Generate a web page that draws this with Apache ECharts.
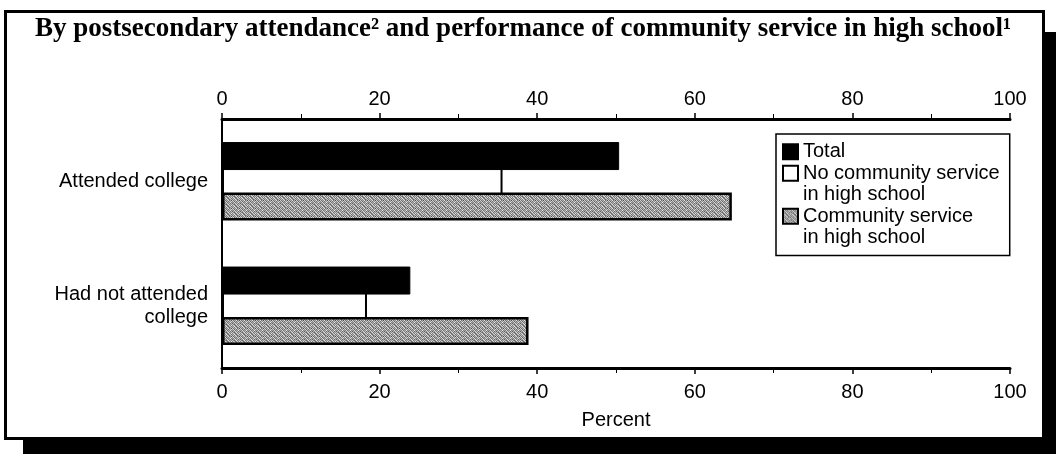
<!DOCTYPE html>
<html>
<head>
<meta charset="utf-8">
<script src="https://cdn.jsdelivr.net/npm/echarts@6/dist/echarts.min.js"></script>
<style>
html,body{margin:0;padding:0;background:#fff;}
#chart{width:1056px;height:454px;}
</style>
</head>
<body>
<div id="chart"></div>
<script>
// ---- data ----
const titleText = 'By postsecondary attendance\u00B2 and performance of community service in high school\u00B9';
const categories = ['Attended college', 'Had not attended\ncollege'];
const seriesNames = ['Total', 'No community service in high school', 'Community service in high school'];
const totalValues = [50.4, 23.9];
const noServiceValues = [35.6, 18.4];
const serviceValues = [64.7, 38.9];
const axisMin = 0, axisMax = 100, axisInterval = 20;
const axisName = 'Percent';

// ---- stipple texture (style only) ----
const shades = [
  ['#d0d0d0','#6a6a6a','#b0b0b0','#8a8a8a','#e0e0e0','#757575','#a8a8a8','#505050'],
  ['#7f7f7f','#e2e2e2','#5e5e5e','#bcbcbc','#6c6c6c','#c8c8c8','#8c8c8c','#d8d8d8'],
  ['#a5a5a5','#7a7a7a','#d6d6d6','#6f6f6f','#aaaaaa','#858585','#e8e8e8','#7a7a7a'],
  ['#5a5a5a','#b2b2b2','#8c8c8c','#dcdcdc','#7c7c7c','#c4c4c4','#6a6a6a','#b8b8b8'],
  ['#c8c8c8','#838383','#646464','#a0a0a0','#e6e6e6','#6e6e6e','#b4b4b4','#8e8e8e'],
  ['#767676','#d6d6d6','#a8a8a8','#616161','#959595','#d2d2d2','#7c7c7c','#e0e0e0'],
  ['#b8b8b8','#8a8a8a','#e4e4e4','#9a9a9a','#5c5c5c','#b0b0b0','#cfcfcf','#6c6c6c'],
  ['#6e6e6e','#c4c4c4','#7b7b7b','#d8d8d8','#a4a4a4','#686868','#909090','#c2c2c2']
];
const pc = document.createElement('canvas');
pc.width = 8; pc.height = 8;
const pctx = pc.getContext('2d');
shades.forEach((row, y) => row.forEach((c, x) => { pctx.fillStyle = c; pctx.fillRect(x, y, 1, 1); }));
const stipple = { image: pc, repeat: 'repeat' };

const chart = echarts.init(document.getElementById('chart'), null, { renderer: 'canvas' });
const txt = '#000';
const fontSans = 'Liberation Sans, Arial, Helvetica, sans-serif';
const fs = 20;

function valueAxis(pos) {
  return {
    type: 'value', position: pos, min: axisMin, max: axisMax, interval: axisInterval,
    name: pos === 'bottom' ? axisName : '',
    nameLocation: 'middle', nameGap: 42,
    nameTextStyle: { color: txt, fontSize: fs, fontFamily: fontSans },
    axisLine: { show: true, lineStyle: { color: '#000', width: 3 } },
    axisTick: { show: true, length: 6, lineStyle: { color: '#000', width: 1.5 } },
    minorTick: { show: true, splitNumber: 2, length: 5, lineStyle: { color: '#000', width: 1 } },
    axisLabel: { color: txt, fontSize: fs, fontFamily: fontSans, margin: pos === 'bottom' ? 14 : 10 },
    splitLine: { show: false }
  };
}

const option = {
  backgroundColor: '#fff',
  animation: false,
  title: {
    text: titleText, left: 30, top: 11,
    textStyle: { fontFamily: 'Liberation Serif, Times New Roman, serif', fontWeight: 'bold', fontSize: 27, color: '#000' }
  },
  legend: {
    orient: 'vertical', left: 776, top: 134,
    data: seriesNames,
    icon: 'rect', itemWidth: 15, itemHeight: 15, itemGap: -21.5,
    padding: [7, 10, 7, 6],
    borderColor: '#000', borderWidth: 1.5,
    selectedMode: false,
    formatter: function (name) {
      if (name === seriesNames[1]) return '\nNo community service\nin high school';
      if (name === seriesNames[2]) return '\nCommunity service\nin high school';
      return name;
    },
    textStyle: { color: txt, fontSize: fs, lineHeight: 21.5, fontFamily: fontSans }
  },
  grid: { left: 222, right: 46, top: 119, bottom: 86, containLabel: false },
  xAxis: [valueAxis('bottom'), valueAxis('top')],
  yAxis: {
    type: 'category', data: categories, inverse: true,
    axisLine: { show: true, lineStyle: { color: '#000', width: 2 } },
    axisTick: { show: false },
    axisLabel: { color: txt, fontSize: fs, fontFamily: fontSans, margin: 14, lineHeight: 23, align: 'right' }
  },
  series: [
    { name: seriesNames[0], type: 'bar', xAxisIndex: 0, data: totalValues, barWidth: 28, barGap: '-10%', z: 3,
      itemStyle: { color: '#000', borderColor: '#000', borderWidth: 1 } },
    { name: seriesNames[1], type: 'bar', xAxisIndex: 0, data: noServiceValues, barWidth: 28, barGap: '-10%', z: 1,
      itemStyle: { color: '#fff', borderColor: '#000', borderWidth: 2 } },
    { name: seriesNames[2], type: 'bar', xAxisIndex: 0, data: serviceValues, barWidth: 28, barGap: '-10%', z: 3,
      itemStyle: { color: stipple, borderColor: '#000', borderWidth: 2.5 } }
  ],
  graphic: [
    { type: 'rect', z: -10, silent: true, shape: { x: 23, y: 436, width: 1033, height: 18 }, style: { fill: '#000' } },
    { type: 'rect', z: -10, silent: true, shape: { x: 1043, y: 32, width: 13, height: 422 }, style: { fill: '#000' } },
    { type: 'rect', z: -5, silent: true, shape: { x: 5.5, y: 11.5, width: 1038, height: 427 }, style: { fill: '#fff', stroke: '#000', lineWidth: 3 } }
  ]
};
chart.setOption(option);
</script>
</body>
</html>
